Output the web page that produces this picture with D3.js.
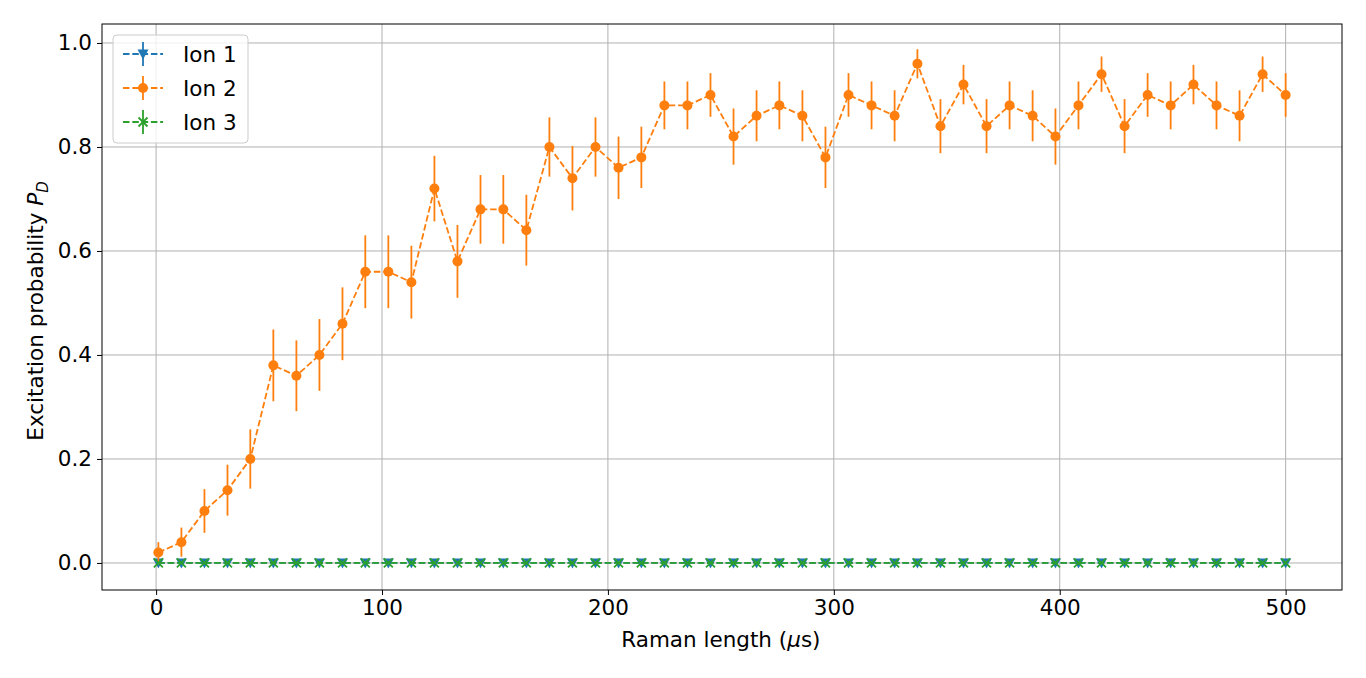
<!DOCTYPE html>
<html><head><meta charset="utf-8">
<script src="https://cdn.jsdelivr.net/npm/d3@7"></script>
<style>body{margin:0;background:#fff}svg{font-family:"DejaVu Sans",sans-serif}</style>
</head><body><div id="chart"></div>
<script>
const ramanLength = [1,11.2,21.4,31.6,41.7,51.9,62.1,72.3,82.5,92.6,102.8,113,123.2,133.4,143.6,153.7,163.9,174.1,184.3,194.5,204.7,214.8,225,235.2,245.4,255.6,265.8,275.9,286.1,296.3,306.5,316.7,326.9,337,347.2,357.4,367.6,377.8,388,398.1,408.3,418.5,428.7,438.9,449.1,459.2,469.4,479.6,489.8,500];
const ion2 = [0.02,0.04,0.10,0.14,0.20,0.38,0.36,0.40,0.46,0.56,0.56,0.54,0.72,0.58,0.68,0.68,0.64,0.80,0.74,0.80,0.76,0.78,0.88,0.88,0.90,0.82,0.86,0.88,0.86,0.78,0.90,0.88,0.86,0.96,0.84,0.92,0.84,0.88,0.86,0.82,0.88,0.94,0.84,0.90,0.88,0.92,0.88,0.86,0.94,0.90];
const ion2Err = [0.020,0.028,0.042,0.049,0.057,0.069,0.068,0.069,0.070,0.070,0.070,0.070,0.063,0.070,0.066,0.066,0.068,0.057,0.062,0.057,0.060,0.059,0.046,0.046,0.042,0.054,0.049,0.046,0.049,0.059,0.042,0.046,0.049,0.028,0.052,0.038,0.052,0.046,0.049,0.054,0.046,0.034,0.052,0.042,0.046,0.038,0.046,0.049,0.034,0.042];
const ion1 = ramanLength.map(() => 0);
const ion3 = ramanLength.map(() => 0);
const xTicks = [0,100,200,300,400,500];
const yTicks = [0,0.2,0.4,0.6,0.8,1.0];

const width = 1366, height = 678;
const margin = {top: 24, right: 24, bottom: 88, left: 102};
const fs = 21.5;
const svg = d3.select('#chart').append('svg').attr('width', width).attr('height', height);
const x = d3.scaleLinear().domain([-23.95, 524.95]).range([margin.left, width - margin.right]);
const y = d3.scaleLinear().domain([-0.052, 1.0365]).range([height - margin.bottom, margin.top]);

// grid
svg.append('g').selectAll('line').data(xTicks).enter().append('line')
  .attr('x1', d => x(d)).attr('x2', d => x(d)).attr('y1', margin.top).attr('y2', height - margin.bottom)
  .attr('stroke', '#b0b0b0').attr('stroke-width', 1);
svg.append('g').selectAll('line').data(yTicks).enter().append('line')
  .attr('y1', d => y(d)).attr('y2', d => y(d)).attr('x1', margin.left).attr('x2', width - margin.right)
  .attr('stroke', '#b0b0b0').attr('stroke-width', 1);

const xAxis = svg.append('g').attr('transform', `translate(0,${height - margin.bottom})`)
  .call(d3.axisBottom(x).tickValues(xTicks).tickFormat(d3.format('d')).tickSizeOuter(0).tickSize(5).tickPadding(5));
const yAxis = svg.append('g').attr('transform', `translate(${margin.left},0)`)
  .call(d3.axisLeft(y).tickValues(yTicks).tickFormat(d3.format('.1f')).tickSizeOuter(0).tickSize(5).tickPadding(5));
[xAxis, yAxis].forEach(a => {
  a.selectAll('text').attr('font-size', fs).attr('fill', '#000').attr('font-family', 'DejaVu Sans');
  a.select('.domain').remove();
});
svg.append('rect').attr('x', margin.left).attr('y', margin.top)
  .attr('width', width - margin.left - margin.right).attr('height', height - margin.top - margin.bottom)
  .attr('fill', 'none').attr('stroke', '#000').attr('stroke-width', 1);

svg.append('text').attr('x', x(250)).attr('y', 647).attr('text-anchor', 'middle').attr('font-size', fs)
  .html('Raman length (<tspan font-style="italic">μ</tspan>s)');
svg.append('text').attr('transform', `translate(43,${y(0.5) + 8}) rotate(-90)`).attr('text-anchor', 'middle').attr('font-size', fs)
  .html('Excitation probability <tspan font-style="italic">P</tspan><tspan font-style="italic" font-size="15" dy="5">D</tspan>');

const line = d3.line().x((d, i) => x(ramanLength[i])).y(d => y(d));
const c1 = '#1f77b4', c2 = '#ff7f0e', c3 = '#2ca02c';
const sw = 1.8, dash = '6.5,2.8';

function tri(g, cx, cy, col) {
  g.append('path').attr('d', `M${cx - 5.5},${cy - 4.5}L${cx + 5.5},${cy - 4.5}L${cx},${cy + 5.5}Z`).attr('fill', col);
}
function cross(g, cx, cy, col) {
  g.append('path').attr('d', `M${cx - 4.5},${cy - 4.5}L${cx + 4.5},${cy + 4.5}M${cx - 4.5},${cy + 4.5}L${cx + 4.5},${cy - 4.5}`)
    .attr('stroke', col).attr('stroke-width', 1.8);
}

// Ion 1
svg.append('path').datum(ion1).attr('d', line).attr('fill', 'none').attr('stroke', c1).attr('stroke-width', sw).attr('stroke-dasharray', dash);
const g1 = svg.append('g');
ion1.forEach((v, i) => tri(g1, x(ramanLength[i]), y(v), c1));

// Ion 2
svg.append('g').selectAll('line').data(ion2).enter().append('line')
  .attr('x1', (d, i) => x(ramanLength[i])).attr('x2', (d, i) => x(ramanLength[i]))
  .attr('y1', (d, i) => y(d - ion2Err[i])).attr('y2', (d, i) => y(d + ion2Err[i]))
  .attr('stroke', c2).attr('stroke-width', sw);
svg.append('path').datum(ion2).attr('d', line).attr('fill', 'none').attr('stroke', c2).attr('stroke-width', sw).attr('stroke-dasharray', dash);
svg.append('g').selectAll('circle').data(ion2).enter().append('circle')
  .attr('cx', (d, i) => x(ramanLength[i])).attr('cy', d => y(d)).attr('r', 5).attr('fill', c2);

// Ion 3
svg.append('path').datum(ion3).attr('d', line).attr('fill', 'none').attr('stroke', c3).attr('stroke-width', sw).attr('stroke-dasharray', dash);
const g3 = svg.append('g');
ion3.forEach((v, i) => cross(g3, x(ramanLength[i]), y(v), c3));

// legend
const leg = svg.append('g');
leg.append('rect').attr('x', 113).attr('y', 35).attr('width', 135).attr('height', 108).attr('rx', 4)
  .attr('fill', '#fff').attr('fill-opacity', 0.8).attr('stroke', '#ccc');
[['Ion 1', c1, tri], ['Ion 2', c2, null], ['Ion 3', c3, cross]].forEach(([name, col, mk], i) => {
  const cy = 54 + i * 34;
  leg.append('line').attr('x1', 123).attr('x2', 163).attr('y1', cy).attr('y2', cy)
    .attr('stroke', col).attr('stroke-width', sw).attr('stroke-dasharray', dash);
  leg.append('line').attr('x1', 143).attr('x2', 143).attr('y1', cy - 12).attr('y2', cy + 12)
    .attr('stroke', col).attr('stroke-width', sw);
  if (mk) mk(leg, 143, cy, col);
  else leg.append('circle').attr('cx', 143).attr('cy', cy).attr('r', 5).attr('fill', col);
  leg.append('text').attr('x', 183).attr('y', cy + 8).attr('font-size', fs).text(name);
});
</script></body></html>
